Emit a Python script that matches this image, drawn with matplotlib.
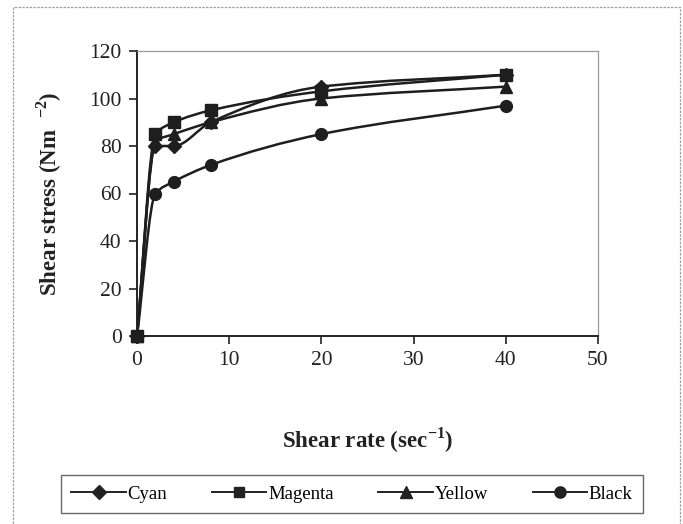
import matplotlib
matplotlib.use("Agg")
import matplotlib.pyplot as plt
from matplotlib.path import Path
from matplotlib.patches import PathPatch, Rectangle
from matplotlib.lines import Line2D
import numpy as np

plt.rcParams['font.family'] = ['Liberation Serif', 'DejaVu Serif']
plt.rcParams['mathtext.fontset'] = 'custom'
plt.rcParams['mathtext.rm'] = 'Liberation Serif'
plt.rcParams['mathtext.bf'] = 'Liberation Serif:bold'

shear_rate = [0, 2, 4, 8, 20, 40]
cyan = [0, 80, 80, 90, 105, 110]
magenta = [0, 85, 90, 95, 103, 110]
yellow = [0, 82, 85, 90, 100, 105]
black = [0, 60, 65, 72, 85, 97]
series_names = ["Cyan", "Magenta", "Yellow", "Black"]
series_values = [cyan, magenta, yellow, black]
markers = ["D", "s", "^", "o"]
marker_sizes = [7, 8, 9, 8.5]

x_ticks = [0, 10, 20, 30, 40, 50]
y_ticks = [0, 20, 40, 60, 80, 100, 120]


def smooth_path(xs, ys):
    """Monotone cubic (Fritsch-Carlson) drawn as Bezier segments."""
    x = np.asarray(xs, float)
    y = np.asarray(ys, float)
    n = len(x)
    h = np.diff(x)
    d = np.diff(y) / h
    m = np.zeros(n)
    m[0] = d[0]
    m[-1] = d[-1]
    for i in range(1, n - 1):
        if d[i - 1] * d[i] <= 0:
            m[i] = 0.0
        else:
            w1 = 2 * h[i] + h[i - 1]
            w2 = h[i] + 2 * h[i - 1]
            m[i] = (w1 + w2) / (w1 / d[i - 1] + w2 / d[i])
    verts = [(x[0], y[0])]
    codes = [Path.MOVETO]
    for i in range(n - 1):
        dx = h[i] / 3.0
        verts += [(x[i] + dx, y[i] + m[i] * dx),
                  (x[i + 1] - dx, y[i + 1] - m[i + 1] * dx),
                  (x[i + 1], y[i + 1])]
        codes += [Path.CURVE4] * 3
    return Path(verts, codes)


fig = plt.figure(figsize=(6.83, 5.24), dpi=100)
W, H = 683, 524
ax = fig.add_axes([137 / W, 1 - 336 / H, (598 - 137) / W, (336 - 51) / H])

for name, vals, mk, ms in zip(series_names, series_values, markers, marker_sizes):
    patch = PathPatch(smooth_path(shear_rate, vals), facecolor='none',
                      edgecolor='#1e1e1e', lw=1.8, zorder=2)
    ax.add_patch(patch)
    ax.plot(shear_rate, vals, linestyle='none', marker=mk, ms=ms,
            color='#1e1e1e', zorder=3, clip_on=False)

ax.set_xlim(0, 50)
ax.set_ylim(0, 120)
ax.set_xticks(x_ticks)
ax.set_yticks(y_ticks)
ax.tick_params(direction='out', length=6, width=1.2, labelsize=15.5,
               colors='#222222', pad=5)
for s in ['left', 'bottom']:
    ax.spines[s].set_color('#222222')
    ax.spines[s].set_linewidth(1.4)
for s in ['top', 'right']:
    ax.spines[s].set_color('#9a9a9a')
    ax.spines[s].set_linewidth(0.9)

ax.set_xlabel('Shear rate (sec$^{\\mathbf{-1}}$)', fontsize=16.5,
              fontweight='bold', labelpad=40, color='#222222')
ax.set_ylabel('Shear stress (Nm  $^{\\mathbf{-2}}$)', fontsize=16.5,
              fontweight='bold', labelpad=18, color='#222222')

handles = [Line2D([0], [0], color='#222222', lw=1.4, marker=mk, ms=ms * 0.95)
           for mk, ms in zip(markers, marker_sizes)]
leg = fig.legend(handles, series_names, ncol=4, loc='center',
                 bbox_to_anchor=(61 / W, 1 - 516 / H, 582 / W, 44 / H),
                 mode='expand', fontsize=13.5,
                 frameon=True, fancybox=False, handlelength=2.9,
                 columnspacing=1.5, handletextpad=0.1, borderpad=0.55,
                 borderaxespad=0)
leg.get_frame().set_edgecolor('#444444')
leg.get_frame().set_linewidth(1.0)

fig.patches.append(Rectangle((13 / W, -0.05), (680 - 13) / W, 1 - 7 / H + 0.05,
                             transform=fig.transFigure, fill=False,
                             edgecolor='#a0a0a0', lw=0.9, linestyle=(0, (2, 1))))

fig.savefig('out.png', dpi=100)
